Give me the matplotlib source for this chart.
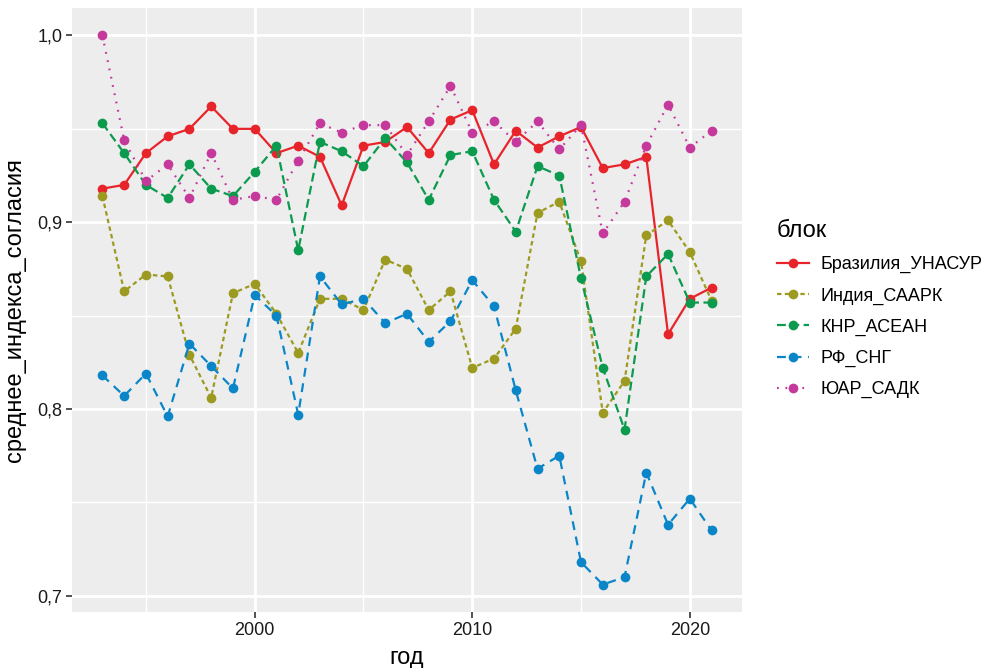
import numpy as np
import matplotlib
matplotlib.use('Agg')
import matplotlib.pyplot as plt
from matplotlib.ticker import FixedLocator, FuncFormatter

plt.rcParams['font.family'] = ['Liberation Sans', 'DejaVu Sans']

# data (average agreement index by year)
years = list(range(1993, 2022))

brazil_unasur = [0.918, 0.920, 0.937, 0.946, 0.950, 0.962, 0.950, 0.950, 0.937, 0.941,
                 0.935, 0.909, 0.941, 0.943, 0.951, 0.937, 0.955, 0.960, 0.931, 0.949,
                 0.940, 0.946, 0.951, 0.929, 0.931, 0.935, 0.840, 0.859, 0.865]
india_saark = [0.914, 0.863, 0.872, 0.871, 0.829, 0.806, 0.862, 0.867, 0.851, 0.830,
               0.859, 0.859, 0.853, 0.880, 0.875, 0.853, 0.863, 0.822, 0.827, 0.843,
               0.905, 0.911, 0.879, 0.798, 0.815, 0.893, 0.901, 0.884, 0.858]
china_asean = [0.953, 0.937, 0.920, 0.913, 0.931, 0.918, 0.914, 0.927, 0.941, 0.885,
               0.943, 0.938, 0.930, 0.945, 0.932, 0.912, 0.936, 0.938, 0.912, 0.895,
               0.930, 0.925, 0.870, 0.822, 0.789, 0.871, 0.883, 0.857, 0.857]
rf_sng = [0.818, 0.807, 0.819, 0.796, 0.835, 0.823, 0.811, 0.861, 0.850, 0.797,
          0.871, 0.856, 0.859, 0.846, 0.851, 0.836, 0.847, 0.869, 0.855, 0.810,
          0.768, 0.775, 0.718, 0.706, 0.710, 0.766, 0.738, 0.752, 0.735]
sa_sadc = [1.000, 0.944, 0.922, 0.931, 0.913, 0.937, 0.912, 0.914, 0.912, 0.933,
           0.953, 0.948, 0.952, 0.952, 0.936, 0.954, 0.973, 0.948, 0.954, 0.943,
           0.954, 0.939, 0.952, 0.894, 0.911, 0.941, 0.963, 0.940, 0.949]

labels = ['Бразилия_УНАСУР', 'Индия_СААРК', 'КНР_АСЕАН', 'РФ_СНГ', 'ЮАР_САДК']
series = [brazil_unasur, india_saark, china_asean, rf_sng, sa_sadc]
colors = ['#E8242B', '#9C9A20', '#0C9A4E', '#0A86C8', '#C4399B']
dashes = [None, (2, 1.5), (4, 2), (4, 3), (0.8, 3)]

fig = plt.figure(figsize=(9.98, 6.68), dpi=100)
ax = fig.add_axes([0.0721, 0.0838, 0.6714, 0.9042])
ax.set_facecolor('#EDEDED')

for vals, lab, col, ds in zip(series, labels, colors, dashes):
    line, = ax.plot(years, vals, color=col, lw=1.6, marker='o', markersize=7,
                    markeredgewidth=0, label=lab)
    if ds is not None:
        line.set_dashes(ds)

# ggplot-like expansion
x0, x1 = min(years), max(years)
allv = np.concatenate([np.array(s) for s in series])
y0, y1 = allv.min(), allv.max()
ax.set_xlim(x0 - 0.05 * (x1 - x0), x1 + 0.05 * (x1 - x0))
ax.set_ylim(y0 - 0.05 * (y1 - y0), y1 + 0.05 * (y1 - y0))

ax.xaxis.set_major_locator(FixedLocator([2000, 2010, 2020]))
ax.xaxis.set_minor_locator(FixedLocator([1995, 2005, 2015]))
ax.yaxis.set_major_locator(FixedLocator([0.7, 0.8, 0.9, 1.0]))
ax.yaxis.set_minor_locator(FixedLocator([0.75, 0.85, 0.95]))
ax.yaxis.set_major_formatter(FuncFormatter(lambda v, p: f'{v:.1f}'.replace('.', ',')))

ax.grid(which='major', color='white', lw=2.0)
ax.grid(which='minor', color='white', lw=1.0)
ax.set_axisbelow(True)
for s in ax.spines.values():
    s.set_visible(False)
ax.tick_params(which='major', length=4, width=1.2, color='#333333',
               labelsize=13, labelcolor='#1a1a1a', pad=3)
ax.tick_params(which='minor', length=0)

ax.set_xlabel('год', fontsize=17, labelpad=6)
ax.set_ylabel('среднее_индекса_согласия', fontsize=17, labelpad=8)

leg = fig.legend(loc='upper left', bbox_to_anchor=(0.762, 0.695), frameon=False,
                 title='блок', fontsize=13, title_fontsize=17, handlelength=1.8,
                 handletextpad=0.6, labelspacing=0.78, alignment='left')

fig.savefig('out.png', dpi=100)
